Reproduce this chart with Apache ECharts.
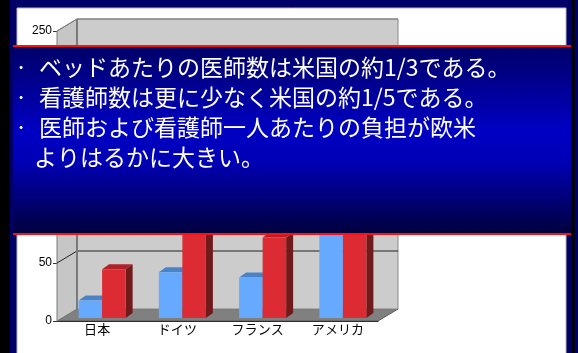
<!DOCTYPE html>
<html>
<head>
<meta charset="utf-8">
<script src="https://cdn.jsdelivr.net/npm/echarts@6/dist/echarts.min.js"></script>
<style>
  html, body { margin: 0; padding: 0; background: #000066; }
  #chart { width: 578px; height: 353px; }
</style>
</head>
<body>
<div id="chart"></div>
<script>
// Staff per 100 hospital beds
const categories = ['日本', 'ドイツ', 'フランス', 'アメリカ'];
const doctors = [15, 39.5, 35, 72];
const nurses = [42, 97, 69.5, 215];
const yTicks = [0, 50, 100, 150, 200, 250];
const notes = [
  { bullet: true, text: 'ベッドあたりの医師数は米国の約1/3である。' },
  { bullet: true, text: '看護師数は更に少なく米国の約1/5である。' },
  { bullet: true, text: '医師および看護師一人あたりの負担が欧米' },
  { bullet: false, text: 'よりはるかに大きい。' }
];

// depth of the 3D box and of each bar (pixels)
const DX = 20, DY = -12;
const BDX = 7, BDY = -5;
const SHIFT_X = 5, SHIFT_Y = -3;

const chart = echarts.init(document.getElementById('chart'));

function wallRender(params, api) {
  const cs = params.coordSys;
  const x0 = cs.x, x1 = cs.x + cs.width;
  const yb = cs.y + cs.height, yt = cs.y;
  const children = [
    { type: 'polygon', shape: { points: [[x0, yb], [x1, yb], [x1 + DX, yb + DY], [x0 + DX, yb + DY]] },
      style: { fill: '#808080', stroke: '#5a5a5a', lineWidth: 1 } },
    { type: 'polygon', shape: { points: [[x0, yb], [x0 + DX, yb + DY], [x0 + DX, yt + DY], [x0, yt]] },
      style: { fill: '#c6c6c6', stroke: '#7a7a7a', lineWidth: 1 } },
    { type: 'rect', shape: { x: x0 + DX, y: yt + DY, width: cs.width, height: cs.height },
      style: { fill: '#cccccc', stroke: '#8a8a8a', lineWidth: 1 } }
  ];
  yTicks.forEach(function (v) {
    if (v === 0) return;
    const y = api.coord([0, v])[1];
    children.push({ type: 'polyline',
      shape: { points: [[x0, y], [x0 + DX, y + DY], [x1 + DX, y + DY]] },
      style: { stroke: v === yTicks[yTicks.length - 1] ? '#7a7a7a' : '#222222', lineWidth: 1, fill: null } });
  });
  children.push({ type: 'line', shape: { x1: x0 + DX, y1: yb + DY, x2: x0 + DX, y2: yt + DY },
    style: { stroke: '#7a7a7a', lineWidth: 2 } });
  return { type: 'group', children: children };
}

function barRender(colors, side) {
  return function (params, api) {
    const idx = api.value(0);
    const base = api.coord([idx, 0]);
    const top = api.coord([idx, api.value(1)]);
    const catW = api.size([1, 0])[0];
    const w = catW * 0.293;
    const x0 = side === 0 ? base[0] - w + SHIFT_X : base[0] + SHIFT_X;
    const x1 = x0 + w;
    const yB = base[1] + SHIFT_Y;
    const yT = top[1] + SHIFT_Y;
    return {
      type: 'group',
      children: [
        { type: 'polygon', shape: { points: [[x1, yT], [x1 + BDX, yT + BDY], [x1 + BDX, yB + BDY], [x1, yB]] },
          style: { fill: colors.side } },
        { type: 'polygon', shape: { points: [[x0, yT], [x1, yT], [x1 + BDX, yT + BDY], [x0 + BDX, yT + BDY]] },
          style: { fill: colors.top } },
        { type: 'rect', shape: { x: x0, y: yT, width: w, height: yB - yT },
          style: { fill: colors.front } }
      ]
    };
  };
}

const graphics = [
  { type: 'rect', z: -10, shape: { x: 0, y: 0, width: 10, height: 353 }, style: { fill: '#000000' } },
  { type: 'rect', z: -10, shape: { x: 571, y: 0, width: 4, height: 353 }, style: { fill: '#00000f' } },
  { type: 'rect', z: -10, shape: { x: 17, y: 8, width: 549, height: 350 },
    style: { fill: '#ffffff', stroke: '#b8b8b8', lineWidth: 1 } },
  { type: 'rect', z: 100, shape: { x: 13, y: 46, width: 558, height: 188 },
    style: { fill: { type: 'linear', x: 0, y: 0, x2: 0, y2: 1,
      colorStops: [
        { offset: 0, color: '#000068' },
        { offset: 0.45, color: '#0000c4' },
        { offset: 0.62, color: '#0000b4' },
        { offset: 1, color: '#00003c' }
      ] } } },
  { type: 'rect', z: 101, shape: { x: 13, y: 45, width: 558, height: 2 }, style: { fill: '#ff1010' } },
  { type: 'rect', z: 101, shape: { x: 13, y: 233, width: 558, height: 2 }, style: { fill: '#ff1010' } }
];
notes.forEach(function (n, i) {
  const y = 67 + i * 30;
  if (n.bullet) {
    graphics.push({ type: 'text', z: 102, x: 15, y: y,
      style: { text: '·', fill: '#ffffff', font: '22px "Noto Sans CJK JP"',
        textAlign: 'left', textVerticalAlign: 'middle', align: 'left', verticalAlign: 'middle' } });
  }
  graphics.push({ type: 'text', z: 102, x: n.bullet ? 39 : 34, y: y,
    style: { text: n.text, fill: '#ffffff', font: '23px "Noto Sans CJK JP"',
      shadowColor: 'rgba(0,0,0,0.6)', shadowOffsetX: 1, shadowOffsetY: 1, shadowBlur: 1,
      textAlign: 'left', textVerticalAlign: 'middle', align: 'left', verticalAlign: 'middle' } });
});

chart.setOption({
  backgroundColor: '#000066',
  animation: false,
  grid: { left: 57, right: 200, top: 31, bottom: 32 },
  xAxis: {
    type: 'category',
    data: categories,
    axisLine: { lineStyle: { color: '#000000', width: 1 } },
    axisTick: { length: 3, lineStyle: { color: '#000000' } },
    axisLabel: { color: '#000000', fontSize: 13, fontFamily: '"Noto Sans CJK JP"', margin: 2 },
    splitLine: { show: false }
  },
  yAxis: {
    type: 'value',
    min: 0, max: 250, interval: 50,
    axisLine: { show: true, lineStyle: { color: '#333333', width: 1 } },
    axisTick: { show: true, length: 4, lineStyle: { color: '#333333' } },
    axisLabel: { color: '#000000', fontSize: 12, fontFamily: '"Liberation Sans"', margin: 5 },
    splitLine: { show: false }
  },
  series: [
    { type: 'custom', name: 'wall', z: 1, silent: true, clip: false,
      data: [[0, 0]], renderItem: wallRender },
    { type: 'custom', name: '医師', z: 3, clip: false,
      data: doctors.map(function (v, i) { return [i, v]; }),
      renderItem: barRender({ front: '#66aaff', top: '#4a82c6', side: '#3a64a0' }, 0) },
    { type: 'custom', name: '看護師', z: 3, clip: false,
      data: nurses.map(function (v, i) { return [i, v]; }),
      renderItem: barRender({ front: '#dd2b33', top: '#b02228', side: '#701a1c' }, 1) }
  ],
  graphic: graphics
});
</script>
</body>
</html>
